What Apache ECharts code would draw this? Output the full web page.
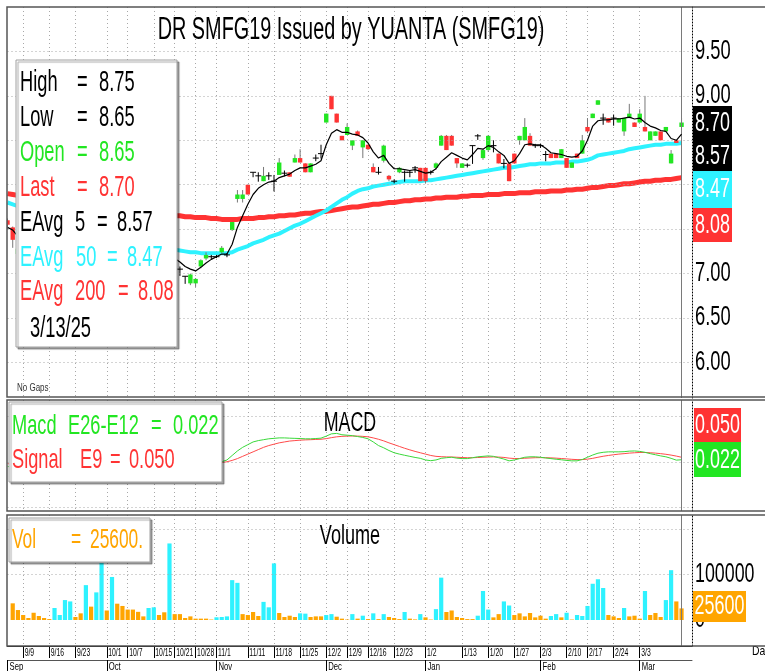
<!DOCTYPE html>
<html><head><meta charset="utf-8">
<script src="https://cdn.jsdelivr.net/npm/echarts@6/dist/echarts.min.js"></script>
<style>html,body{margin:0;padding:0;background:#fff}#c{width:765px;height:671px}</style>
</head><body><div id="c"></div>
<script>
const dates = ['9/4','9/5','9/6','9/9','9/10','9/11','9/12','9/13','9/16','9/17','9/18','9/19','9/20','9/23','9/24','9/25','9/26','9/27','9/30',
'10/1','10/2','10/3','10/4','10/7','10/8','10/9','10/11','10/14','10/15','10/16','10/17','10/18','10/21','10/22','10/23','10/24','10/28','10/29','10/30','10/31',
'11/1','11/4','11/5','11/6','11/7','11/8','11/11','11/12','11/13','11/14','11/15','11/18','11/19','11/20','11/21','11/22','11/25','11/26','11/27','11/28','11/29',
'12/2','12/3','12/4','12/5','12/9','12/10','12/11','12/12','12/16','12/17','12/18','12/19','12/20','12/23','12/24','12/26','12/27','12/30','12/31',
'1/2','1/3','1/6','1/7','1/8','1/9','1/10','1/13','1/14','1/15','1/16','1/17','1/20','1/21','1/22','1/23','1/24','1/27','1/28','1/29','1/30','1/31',
'2/3','2/4','2/5','2/6','2/7','2/10','2/11','2/12','2/13','2/17','2/18','2/19','2/20','2/21','2/24','2/25','2/26','2/27','2/28',
'3/3','3/4','3/5','3/6','3/7','3/10','3/11','3/12','3/13'];
const weekLabels = ['9/9','9/16','9/23','10/1','10/7','10/15','10/21','10/28','11/1','11/11','11/18','11/25','12/2','12/9','12/16','12/23','1/2','1/13','1/20','1/27','2/3','2/10','2/17','2/24','3/3'];
const monthStarts = {'9/4':'Sep','10/1':'Oct','11/1':'Nov','12/2':'Dec','1/2':'Jan','2/3':'Feb','3/3':'Mar'};
const priceTickValues = [6.0,6.5,7.0,7.5,8.0,8.5,9.0,9.5];
const macdGridValues = [-0.5,0,0.5];
const volGridValues = [100000,200000];
const volTickValues = [0,100000];

const open = [7.60,7.52,7.22,7.28,7.22,7.18,7.24,7.20,7.17,7.15,7.25,7.30,7.38,7.42,7.35,7.30,7.40,7.34,7.42,7.50,7.42,7.48,7.40,7.34,7.29,7.25,7.21,7.17,7.24,7.27,7.21,7.15,7.20,
7.05,6.97,6.89,6.89,7.08,7.17,7.19,7.19,7.24,7.21,7.49,7.84,7.84,8.00,8.14,8.10,8.04,8.10,8.04,8.11,8.13,8.14,8.25,8.30,8.24,8.14,8.30,8.35,8.70,9.00,8.80,8.55,8.56,8.44,8.60,8.42,8.45,8.20,8.14,8.27,8.10,8.04,8.14,8.14,8.14,8.19,8.19,8.19,8.14,8.19,8.44,8.55,8.55,8.30,8.19,8.22,8.44,8.55,8.30,8.39,8.44,8.35,8.24,8.24,8.35,8.50,8.50,8.55,8.44,8.44,8.34,8.35,8.35,8.30,8.30,8.19,8.35,8.35,8.65,8.75,8.90,8.75,8.75,8.75,8.70,8.60,8.75,8.70,8.70,8.65,8.50,8.55,8.60,8.60,8.24,8.50,8.65];
const high = [7.62,7.53,7.30,7.30,7.24,7.26,7.25,7.22,7.18,7.28,7.32,7.40,7.45,7.43,7.36,7.42,7.41,7.45,7.55,7.51,7.52,7.49,7.41,7.35,7.30,7.26,7.22,7.26,7.30,7.28,7.22,7.25,7.21,
7.08,6.97,7.00,6.95,7.16,7.24,7.21,7.21,7.31,7.23,7.58,7.94,7.94,8.00,8.14,8.14,8.20,8.14,8.11,8.30,8.16,8.14,8.34,8.40,8.24,8.24,8.34,8.45,8.80,9.00,8.80,8.55,8.69,8.50,8.61,8.50,8.45,8.24,8.20,8.45,8.11,8.06,8.20,8.16,8.16,8.21,8.19,8.19,8.16,8.25,8.56,8.56,8.56,8.30,8.24,8.24,8.44,8.57,8.40,8.56,8.50,8.35,8.29,8.24,8.35,8.55,8.75,8.58,8.46,8.46,8.38,8.35,8.35,8.40,8.30,8.25,8.35,8.56,8.75,8.80,8.95,8.80,8.75,8.79,8.75,8.75,8.91,8.70,8.85,9.00,8.60,8.60,8.60,8.65,8.39,8.50,8.75];
const low = [7.50,7.29,7.20,7.18,7.15,7.16,7.18,7.15,7.12,7.14,7.22,7.28,7.35,7.33,7.28,7.29,7.32,7.33,7.40,7.40,7.40,7.38,7.32,7.27,7.23,7.19,7.15,7.16,7.22,7.19,7.13,7.10,7.08,
6.98,6.89,6.87,6.85,7.06,7.15,7.17,7.18,7.23,7.19,7.48,7.80,7.80,7.89,8.09,8.04,8.04,8.06,7.93,8.11,8.10,8.09,8.25,8.25,8.14,8.14,8.27,8.30,8.70,8.85,8.70,8.50,8.56,8.39,8.55,8.30,8.39,8.14,8.12,8.25,8.04,8.02,8.13,8.04,8.09,8.14,8.04,8.02,8.12,8.17,8.44,8.39,8.44,8.19,8.19,8.20,8.24,8.51,8.28,8.37,8.37,8.24,8.19,8.04,8.24,8.45,8.50,8.44,8.42,8.42,8.27,8.30,8.30,8.30,8.19,8.19,8.30,8.35,8.58,8.75,8.90,8.68,8.70,8.67,8.70,8.55,8.75,8.65,8.70,8.60,8.50,8.55,8.50,8.60,8.24,8.47,8.65];
const close = [7.55,7.38,7.28,7.22,7.18,7.24,7.20,7.17,7.15,7.25,7.30,7.38,7.42,7.35,7.30,7.40,7.34,7.42,7.50,7.42,7.48,7.40,7.34,7.29,7.25,7.21,7.17,7.24,7.27,7.21,7.15,7.20,7.10,
7.05,6.97,6.99,6.94,7.15,7.21,7.19,7.19,7.29,7.21,7.58,7.89,7.89,7.89,8.14,8.10,8.10,8.10,8.04,8.25,8.13,8.09,8.30,8.25,8.14,8.24,8.30,8.35,8.80,8.85,8.70,8.50,8.65,8.50,8.55,8.50,8.40,8.14,8.14,8.44,8.06,8.04,8.19,8.14,8.14,8.19,8.04,8.04,8.14,8.24,8.55,8.39,8.44,8.24,8.24,8.22,8.44,8.55,8.39,8.55,8.44,8.24,8.24,8.04,8.24,8.55,8.65,8.44,8.44,8.44,8.34,8.30,8.30,8.40,8.19,8.25,8.30,8.50,8.60,8.80,8.95,8.75,8.70,8.75,8.75,8.75,8.80,8.65,8.80,8.60,8.60,8.60,8.50,8.65,8.35,8.47,8.70];
const volume = [0,36800,22000,11000,4400,16000,8800,4400,2000,26500,11000,44000,41000,6600,14700,77000,29500,61000,126000,21000,95000,36000,31000,23000,23000,18000,8000,26500,28000,11000,17000,169000,13000,
13000,4400,8000,3000,3000,3000,1000,6000,6600,8000,88000,82000,13000,11000,17700,8800,40000,28000,125000,15500,6600,9500,6600,14700,14000,6600,8000,8000,11000,13000,7300,3000,1000,13000,3000,9500,2000,14700,2000,13000,6600,4400,2000,17700,3000,1300,13000,5800,1000,24000,93500,17700,21000,6600,4400,2000,2000,9500,64000,23000,5800,13000,41000,32000,11000,14700,8000,15500,5800,9500,3000,8800,13000,5800,16000,1000,11000,8800,31000,80000,90000,70600,11000,8000,4400,26500,8000,9500,3000,64000,11000,15500,6600,44000,110000,41000,25600];
const volUp = [0,0,0,0,0,0,0,0,0,1,1,1,1,0,0,1,0,1,1,0,1,0,0,0,0,0,0,1,1,0,0,1,0,
0,0,0,0,0,0,0,1,1,1,1,1,0,0,0,0,1,1,1,0,0,0,0,1,1,0,0,0,1,1,0,0,0,1,0,1,0,1,0,1,0,0,0,1,0,0,1,0,0,1,1,0,0,0,0,0,0,1,1,1,0,0,1,1,0,0,0,0,0,0,0,1,1,0,1,0,1,1,1,1,1,1,0,0,0,1,0,0,0,1,0,0,0,1,1,0,0];
const ema5 = [7.52,7.49,7.42,7.35,7.29,7.27,7.25,7.22,7.20,7.21,7.24,7.29,7.33,7.34,7.32,7.35,7.34,7.37,7.41,7.41,7.43,7.42,7.39,7.35,7.31,7.27,7.23,7.23,7.24,7.23,7.20,7.20,7.17,
7.13,7.08,7.05,7.03,7.07,7.12,7.16,7.19,7.22,7.22,7.33,7.52,7.65,7.78,7.89,7.96,8.00,8.03,8.04,8.08,8.10,8.12,8.16,8.19,8.19,8.21,8.23,8.27,8.45,8.58,8.62,8.59,8.59,8.57,8.56,8.53,8.47,8.37,8.30,8.33,8.24,8.18,8.18,8.17,8.16,8.17,8.15,8.13,8.14,8.18,8.26,8.31,8.36,8.33,8.30,8.28,8.34,8.41,8.40,8.44,8.42,8.37,8.33,8.24,8.27,8.35,8.45,8.46,8.45,8.45,8.41,8.36,8.35,8.34,8.32,8.31,8.32,8.38,8.50,8.66,8.72,8.73,8.73,8.74,8.74,8.75,8.76,8.74,8.75,8.70,8.66,8.64,8.61,8.60,8.52,8.50,8.57];
const ema50 = [7.80,7.78,7.76,7.74,7.72,7.70,7.68,7.66,7.64,7.62,7.60,7.58,7.56,7.54,7.52,7.50,7.48,7.46,7.45,7.43,7.42,7.40,7.38,7.37,7.35,7.34,7.32,7.31,7.30,7.29,7.28,7.28,7.27,
7.26,7.25,7.24,7.24,7.23,7.23,7.23,7.23,7.23,7.23,7.24,7.27,7.29,7.31,7.34,7.36,7.38,7.41,7.43,7.45,7.48,7.51,7.54,7.56,7.59,7.62,7.65,7.68,7.71,7.75,7.79,7.83,7.86,7.90,7.93,7.95,7.96,7.98,7.99,8.00,8.01,8.02,8.03,8.04,8.04,8.04,8.04,8.05,8.05,8.06,8.07,8.08,8.09,8.10,8.11,8.12,8.13,8.14,8.15,8.16,8.17,8.18,8.19,8.19,8.20,8.21,8.22,8.23,8.23,8.24,8.24,8.24,8.25,8.25,8.25,8.26,8.26,8.27,8.28,8.30,8.33,8.34,8.35,8.36,8.37,8.38,8.40,8.41,8.42,8.43,8.44,8.45,8.45,8.46,8.46,8.46,8.47];
const ema200 = [7.90,7.89,7.88,7.87,7.86,7.85,7.84,7.83,7.82,7.81,7.80,7.79,7.78,7.77,7.76,7.75,7.74,7.73,7.72,7.72,7.71,7.70,7.69,7.69,7.68,7.68,7.67,7.67,7.66,7.66,7.66,7.65,7.65,
7.65,7.64,7.64,7.63,7.63,7.63,7.62,7.62,7.61,7.61,7.61,7.61,7.62,7.62,7.62,7.63,7.63,7.64,7.64,7.65,7.65,7.66,7.66,7.67,7.68,7.68,7.69,7.70,7.70,7.71,7.72,7.73,7.74,7.75,7.75,7.76,7.77,7.78,7.78,7.79,7.80,7.80,7.81,7.82,7.82,7.83,7.83,7.84,7.84,7.85,7.85,7.86,7.86,7.86,7.87,7.87,7.88,7.88,7.88,7.89,7.89,7.89,7.90,7.90,7.90,7.91,7.91,7.91,7.92,7.92,7.92,7.93,7.93,7.93,7.94,7.94,7.95,7.95,7.96,7.97,7.97,7.98,7.99,7.99,8.00,8.01,8.01,8.02,8.03,8.04,8.04,8.05,8.05,8.06,8.06,8.07,8.08];
const macd = [-0.05,-0.07,-0.09,-0.11,-0.13,-0.14,-0.15,-0.16,-0.17,-0.16,-0.15,-0.13,-0.11,-0.10,-0.10,-0.09,-0.09,-0.08,-0.06,-0.06,-0.05,-0.05,-0.06,-0.07,-0.08,-0.09,-0.10,-0.10,-0.10,-0.10,-0.11,-0.11,-0.12,-0.13,-0.15,-0.16,-0.14,-0.11,-0.08,-0.05,-0.03,
0.00,0.02,0.07,0.12,0.16,0.19,0.22,0.235,0.245,0.255,0.26,0.265,0.265,0.262,0.26,0.258,0.255,0.255,0.258,0.262,0.285,0.31,0.315,0.30,0.295,0.29,0.28,0.27,0.255,0.22,0.18,0.155,0.125,0.10,0.085,0.072,0.06,0.048,0.038,0.02,0.012,0.02,0.038,0.045,0.05,0.04,0.035,0.035,0.045,0.055,0.06,0.065,0.06,0.045,0.03,0.01,0.02,0.035,0.05,0.055,0.055,0.05,0.042,0.035,0.028,0.022,0.015,0.01,0.01,0.025,0.05,0.075,0.095,0.105,0.11,0.11,0.11,0.112,0.118,0.12,0.115,0.105,0.09,0.078,0.065,0.055,0.038,0.018,0.022];
const signal = [-0.02,-0.03,-0.04,-0.05,-0.07,-0.08,-0.09,-0.10,-0.11,-0.12,-0.13,-0.13,-0.13,-0.12,-0.12,-0.11,-0.11,-0.10,-0.10,-0.09,-0.08,-0.08,-0.07,-0.07,-0.07,-0.08,-0.08,-0.08,-0.09,-0.09,-0.09,-0.10,-0.10,-0.11,-0.11,-0.12,-0.12,-0.11,-0.09,-0.06,-0.035,
-0.01,0.00,0.015,0.035,0.06,0.085,0.11,0.135,0.16,0.18,0.195,0.21,0.22,0.23,0.235,0.24,0.243,0.245,0.248,0.25,0.257,0.268,0.277,0.282,0.285,0.286,0.285,0.282,0.277,0.265,0.25,0.232,0.21,0.19,0.17,0.15,0.132,0.115,0.10,0.085,0.07,0.06,0.056,0.054,0.053,0.05,0.047,0.045,0.045,0.047,0.05,0.052,0.054,0.052,0.048,0.04,0.036,0.036,0.039,0.042,0.045,0.046,0.045,0.043,0.04,0.036,0.032,0.027,0.024,0.024,0.029,0.038,0.05,0.061,0.07,0.078,0.085,0.09,0.096,0.10,0.103,0.103,0.10,0.096,0.09,0.083,0.074,0.063,0.05];

const FONT = "'Liberation Sans', Arial, sans-serif";
const GREEN='#22e622', RED='#ff3333', CYAN='#2ef2ff', ORANGE='#ffa500', GRIDC='#a8a8a8';
const N = dates.length;
const last = N-1;
const cats = dates.concat([' ','  ']);
const weekSet = new Set(weekLabels);
const isWeek = (i, v) => weekSet.has(v);
const isMonth = (i, v) => Object.prototype.hasOwnProperty.call(monthStarts, v);
const dotted = {color: GRIDC, type: [1,3], width: 1};

function xAx(gi, extra) {
  return Object.assign({type:'category', gridIndex:gi, data:cats, boundaryGap:false,
    axisLine:{show:false}, axisTick:{show:false}, axisLabel:{show:false},
    splitLine:{show:true, interval:isWeek, lineStyle:dotted}}, extra||{});
}
const hLines = vals => vals.map(v => ({yAxis:v}));
const nowLine = {xAxis: cats[last], lineStyle:{color:'#7a7a7a', type:'solid', width:1}};
const candleData = dates.map((d,i) => [i, open[i], close[i], low[i], high[i]]);

function T(x, y, s, color, size, opts) {
  opts = opts || {};
  return {type:'text', x:x, y:y, scaleX: opts.sx || 0.63, scaleY: opts.sy || 1, z: opts.z || 102,
    style:{text:s, fill:color, font: size + 'px ' + FONT, align: opts.align || 'left', verticalAlign: opts.va || 'middle'}};
}
function R(x, y, w, h, fill, stroke, opts) {
  opts = opts || {};
  return {type:'rect', z: opts.z || 100, shape:{x:x,y:y,width:w,height:h},
    style:Object.assign({fill:fill, stroke:stroke || null, lineWidth: opts.lw || 1}, opts.style || {})};
}
const f2 = v => v.toFixed(2);
const f3 = v => v.toFixed(3);
const shadow = {shadowColor:'rgba(0,0,0,0.35)', shadowOffsetX:2, shadowOffsetY:2, shadowBlur:1};
const LF = 29;

const option = {
  animation:false,
  backgroundColor:'#fff',
  grid:[
    {left:7.5, right:73, top:7, height:391},
    {left:7.5, right:73, top:400, height:111},
    {left:7.5, right:73, top:515, height:131}
  ],
  xAxis:[
    xAx(0), xAx(1),
    xAx(2, {axisLine:{show:true, onZero:false, lineStyle:{color:'#000'}},
      axisTick:{show:true, interval:isWeek, length:12, lineStyle:{color:'#000'}}}),
    {type:'category', gridIndex:2, data:cats, boundaryGap:false, position:'bottom', offset:14,
      axisLine:{show:true, onZero:false, lineStyle:{color:'#555'}},
      axisTick:{show:true, interval:isMonth, length:11, lineStyle:{color:'#000'}},
      axisLabel:{show:false}, splitLine:{show:false}}
  ],
  yAxis:[
    {type:'value', gridIndex:0, position:'right', min:5.6, max:10, interval:0.1,
      axisLine:{show:true, lineStyle:{color:'#000', type:[1,2]}}, axisTick:{show:false}, splitLine:{show:false}, axisLabel:{show:false}},
    {type:'value', gridIndex:1, position:'right', min:-0.547, max:0.686,
      axisLine:{show:true, lineStyle:{color:'#000', type:[1,2]}}, axisTick:{show:false}, axisLabel:{show:false}, splitLine:{show:false}},
    {type:'value', gridIndex:2, position:'right', min:-57400, max:231800,
      axisLine:{show:true, lineStyle:{color:'#000', type:[1,2]}}, axisTick:{show:false}, axisLabel:{show:false}, splitLine:{show:false}}
  ],
  series:[
    {type:'line', name:'EAvg 200', xAxisIndex:0, yAxisIndex:0, data:ema200, symbol:'none', z:3,
      lineStyle:{color:RED, width:5}, silent:true,
      markLine:{silent:true, symbol:'none', label:{show:false}, lineStyle:dotted, data: hLines(priceTickValues).concat([nowLine])}},
    {type:'line', name:'EAvg 50', xAxisIndex:0, yAxisIndex:0, data:ema50, symbol:'none', z:3,
      lineStyle:{color:CYAN, width:4}, silent:true},
    {type:'custom', name:'Price', xAxisIndex:0, yAxisIndex:0, data:candleData, z:4, clip:true,
      encode:{x:0, y:[1,2,3,4]},
      renderItem:(params, api) => {
        const i = api.value(0), o = api.value(1), c = api.value(2), l = api.value(3), h = api.value(4);
        const pO = api.coord([i,o]), pC = api.coord([i,c]), pL = api.coord([i,l]), pH = api.coord([i,h]);
        const x = pO[0];
        const ch = [];
        if (o === c) {
          ch.push({type:'line', shape:{x1:x, y1:pH[1], x2:x, y2:pL[1]+0.5}, style:{stroke:'#000', lineWidth:1}});
          ch.push({type:'line', shape:{x1:x-3, y1:pO[1], x2:x+3, y2:pO[1]}, style:{stroke:'#000', lineWidth:1}});
        } else {
          ch.push({type:'line', shape:{x1:x, y1:pH[1], x2:x, y2:pL[1]}, style:{stroke:'#777', lineWidth:1}});
          const top = Math.min(pO[1], pC[1]);
          ch.push({type:'rect', shape:{x:x-2.2, y:top, width:4.4, height:Math.max(1, Math.abs(pO[1]-pC[1]))},
            style:{fill: c > o ? GREEN : RED}});
        }
        return {type:'group', children:ch};
      }},
    {type:'line', name:'EAvg 5', xAxisIndex:0, yAxisIndex:0, data:ema5, symbol:'none', z:5,
      lineStyle:{color:'#000', width:1.2}, silent:true},
    {type:'line', name:'Signal', xAxisIndex:1, yAxisIndex:1, data:signal, symbol:'none', z:3,
      lineStyle:{color:'#ff4a4a', width:1}, silent:true,
      markLine:{silent:true, symbol:'none', label:{show:false}, lineStyle:dotted, data: hLines(macdGridValues).concat([nowLine])}},
    {type:'line', name:'Macd', xAxisIndex:1, yAxisIndex:1, data:macd, symbol:'none', z:3,
      lineStyle:{color:'#3ad83a', width:1}, silent:true},
    {type:'bar', name:'Vol', xAxisIndex:2, yAxisIndex:2, barWidth:4.2, z:3, silent:true,
      data: volume.map((v,i) => ({value:v, itemStyle:{color: volUp[i] ? CYAN : ORANGE}})),
      markLine:{silent:true, symbol:'none', label:{show:false}, lineStyle:dotted,
        data: hLines(volGridValues).concat([nowLine])}}
  ]
};
const chart = echarts.init(document.getElementById('c'), null, {renderer:'canvas'});
chart.setOption(option);

const px = (axis, v) => chart.convertToPixel(axis, v);
const graphics = [
  R(7, 7, 760, 390, 'none', '#555', {lw:1.5, z:110}),
  R(7, 400, 760, 111, 'none', '#555', {lw:1.5, z:110}),
  R(7, 515, 760, 131, 'none', '#555', {lw:1.5, z:110}),
  T(351, 30, 'DR SMFG19 Issued by YUANTA (SMFG19)', '#000', 31, {align:'center', sx:0.64}),
  T(350, 424, 'MACD', '#000', 27, {align:'center', sx:0.66}),
  T(350, 537, 'Volume', '#000', 27, {align:'center', sx:0.67}),
  T(17, 388, 'No Gaps', '#333', 10, {sx:0.8}),
  T(752, 651, 'Date', '#000', 13, {sx:0.8}),
  R(16, 60, 161, 287, '#fff', '#a0a0a0', {style:shadow}),
  T(20, 83, 'High', '#000', LF), T(77, 83, '=', '#000', LF), T(99, 83, f2(high[last]), '#000', LF),
  T(20, 118, 'Low', '#000', LF), T(77, 118, '=', '#000', LF), T(99, 118, f2(low[last]), '#000', LF),
  T(20, 153, 'Open', GREEN, LF), T(77, 153, '=', GREEN, LF), T(99, 153, f2(open[last]), GREEN, LF),
  T(20, 188, 'Last', RED, LF), T(77, 188, '=', RED, LF), T(99, 188, f2(close[last]), RED, LF),
  T(20, 223, 'EAvg', '#000', LF), T(75, 223, '5', '#000', LF), T(97, 223, '=', '#000', LF), T(117, 223, f2(ema5[last]), '#000', LF),
  T(20, 258, 'EAvg', CYAN, LF), T(76, 258, '50', CYAN, LF), T(107, 258, '=', CYAN, LF), T(127, 258, f2(ema50[last]), CYAN, LF),
  T(20, 292, 'EAvg', RED, LF), T(75, 292, '200', RED, LF), T(118, 292, '=', RED, LF), T(138, 292, f2(ema200[last]), RED, LF),
  T(30, 329, '3/13/25', '#000', LF),
  R(9, 402, 213, 80, '#fff', '#a0a0a0', {style:shadow}),
  T(12, 426, 'Macd', GREEN, 28, {sx:0.65}), T(68, 426, 'E26-E12', GREEN, 28, {sx:0.65}), T(151, 426, '=', GREEN, 28, {sx:0.65}), T(173, 426, f3(macd[last]), GREEN, 28, {sx:0.65}),
  T(12, 460, 'Signal', RED, 28, {sx:0.65}), T(80, 460, 'E9', RED, 28, {sx:0.65}), T(110, 460, '=', RED, 28, {sx:0.65}), T(129, 460, f3(signal[last]), RED, 28, {sx:0.65}),
  R(9, 518, 141, 44, '#fff', '#a0a0a0', {style:shadow}),
  T(12, 540, 'Vol', ORANGE, 28, {sx:0.62}), T(71, 540, '=', ORANGE, 28, {sx:0.62}), T(90, 540, volume[last] + '.', ORANGE, 28, {sx:0.62}),
  R(693, 106, 39, 32, '#000', null), T(712.5, 123, f2(close[last]), '#fff', 28, {align:'center', sx:0.64}),
  R(693, 138, 39, 33, '#000', null), T(712.5, 156, f2(ema5[last]), '#fff', 28, {align:'center', sx:0.64}),
  R(693, 171, 39, 37, CYAN, null), T(712.5, 189, f2(ema50[last]), '#fff', 28, {align:'center', sx:0.64}),
  R(693, 208, 39, 34, RED, null), T(712.5, 225, f2(ema200[last]), '#fff', 28, {align:'center', sx:0.64}),
  R(694, 408, 47, 34, RED, null), T(717.5, 425, f3(signal[last]), '#fff', 28, {align:'center', sx:0.64}),
  R(694, 442, 47, 35, GREEN, null), T(717.5, 460, f3(macd[last]), '#fff', 28, {align:'center', sx:0.64}),
  R(693, 591, 53, 31, ORANGE, null), T(719.5, 606, String(volume[last]), '#fff', 28, {align:'center', sx:0.64})
];
// price axis tick labels, placed by the price scale
priceTickValues.forEach(v => graphics.push(T(695, px({yAxisIndex:0}, v), v.toFixed(2), '#000', 27, {sx:0.68, z:99})));
// volume axis tick labels
volTickValues.forEach(v => graphics.push(T(695, px({yAxisIndex:2}, v), String(v), '#000', 27, {sx:0.66, z:99})));
// date tick labels
dates.forEach((d, i) => {
  const x = px({xAxisIndex:2}, i);
  if (weekSet.has(d)) graphics.push(T(x + 1.5, 647, d, '#000', 11, {sx:0.62, va:'top', z:99}));
  if (monthStarts[d]) graphics.push(T(x + 2, 661, monthStarts[d], '#000', 11, {sx:0.7, va:'top', z:99}));
});
chart.setOption({graphic: graphics});
</script>
</body></html>
